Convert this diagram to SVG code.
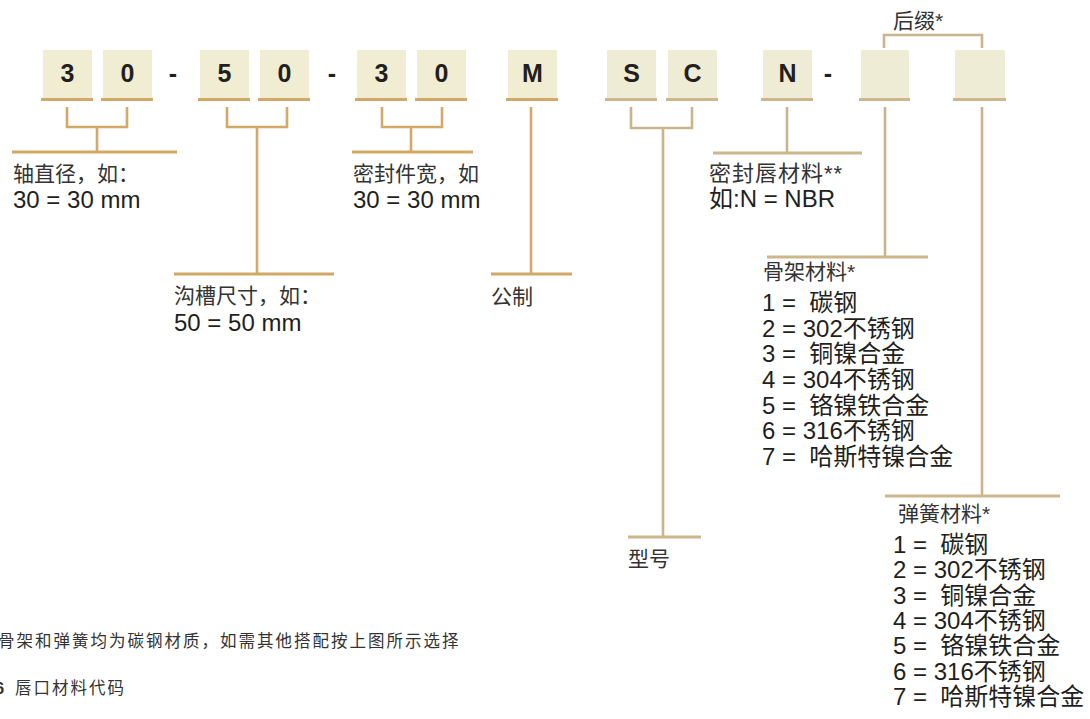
<svg xmlns="http://www.w3.org/2000/svg" width="1090" height="719" viewBox="0 0 1090 719">
<style>
.box{fill:#F0EDD2}
.boxr{fill:#EFECD5}
.ul{stroke:#D2A866;stroke-width:3;fill:none}
.ulr{stroke:#CDB58C;stroke-width:3;fill:none}
.ln{stroke:#D4A968;stroke-width:2.6;fill:none}
.lnr{stroke:#CBB48C;stroke-width:2.6;fill:none}
.code{font-family:"Liberation Sans",Arial,sans-serif;font-weight:bold;font-size:25px;fill:#231F20;text-anchor:middle}
.lab{font-family:"Liberation Sans","Noto Sans CJK SC",sans-serif;font-size:21px;fill:#333}
.num{font-family:"Liberation Sans","Noto Sans CJK SC",sans-serif;font-size:24px;fill:#231F20}
.li{font-family:"Liberation Sans","Noto Sans CJK SC",sans-serif;font-size:24px;fill:#231F20;white-space:pre}
.ft{font-family:"Liberation Sans","Noto Sans CJK SC",sans-serif;font-size:16.5px;fill:#333;letter-spacing:2px}
</style>
<rect width="1090" height="719" fill="#fff"/>
<g id="connectors">
<path class="ln" d="M67,107V127H127V107M97,127V152"/>
<path class="ul" d="M12,152H177"/>
<path class="ln" d="M227,107V127H287V107M257,127V274"/>
<path class="ul" d="M174,274H334"/>
<path class="ln" d="M382,107V127H442V107M411,127V152"/>
<path class="ul" d="M352,152H473"/>
<path class="ln" d="M531,107V274"/>
<path class="ul" d="M491,274H572"/>
<path class="lnr" d="M631,107V128H692V107M663,128V537"/>
<path class="ulr" d="M628,537H701"/>
<path class="lnr" d="M787,107V153"/>
<path class="ulr" d="M713,153H862"/>
<path class="lnr" d="M885,107V257"/>
<path class="ulr" d="M767,257H928"/>
<path class="lnr" d="M982,107V496"/>
<path class="ulr" d="M885,496H1060"/>
<path class="lnr" d="M884,48V35H982V48"/>
</g>
<g id="b1"><rect class="box" x="43" y="50" width="49" height="48"/><path class="ul" d="M41,99.5H93"/><text class="code" x="67.5" y="82">3</text></g>
<g id="b2"><rect class="box" x="103" y="50" width="49" height="48"/><path class="ul" d="M101,99.5H153"/><text class="code" x="127.5" y="82">0</text></g>
<g id="d1"><text class="code" x="173" y="82">-</text></g>
<g id="b3"><rect class="box" x="200" y="50" width="49" height="48"/><path class="ul" d="M198,99.5H250"/><text class="code" x="224.5" y="82">5</text></g>
<g id="b4"><rect class="box" x="260" y="50" width="49" height="48"/><path class="ul" d="M258,99.5H310"/><text class="code" x="284.5" y="82">0</text></g>
<g id="d2"><text class="code" x="332" y="82">-</text></g>
<g id="b5"><rect class="box" x="357" y="50" width="49" height="48"/><path class="ul" d="M355,99.5H407"/><text class="code" x="381.5" y="82">3</text></g>
<g id="b6"><rect class="box" x="417" y="50" width="49" height="48"/><path class="ul" d="M415,99.5H467"/><text class="code" x="441.5" y="82">0</text></g>
<g id="b7"><rect class="box" x="508" y="50" width="49" height="48"/><path class="ul" d="M506,99.5H558"/><text class="code" x="532.5" y="82">M</text></g>
<g id="b8"><rect class="boxr" x="607" y="50" width="49" height="48"/><path class="ulr" d="M605,99.5H657"/><text class="code" x="631.5" y="82">S</text></g>
<g id="b9"><rect class="boxr" x="668" y="50" width="49" height="48"/><path class="ulr" d="M666,99.5H718"/><text class="code" x="692.5" y="82">C</text></g>
<g id="b10"><rect class="boxr" x="763" y="50" width="49" height="48"/><path class="ulr" d="M761,99.5H813"/><text class="code" x="787.5" y="82">N</text></g>
<g id="d3"><text class="code" x="828" y="82">-</text></g>
<g id="b11"><rect class="boxr" x="861" y="50" width="48" height="48"/><path class="ulr" d="M859,99.5H910"/></g>
<g id="b12"><rect class="boxr" x="955" y="50" width="50" height="48"/><path class="ulr" d="M953,99.5H1006"/></g>
<g id="suffix"><text class="lab" x="893" y="28">后缀*</text></g>
<g id="shaft"><text class="lab" x="13" y="181">轴直径，如：</text><text class="num" x="13" y="208">30 = 30 mm</text></g>
<g id="groove"><text class="lab" x="174" y="303">沟槽尺寸，如：</text><text class="num" x="174" y="331">50 = 50 mm</text></g>
<g id="width"><text class="lab" x="353" y="181">密封件宽，如</text><text class="num" x="353" y="208">30 = 30 mm</text></g>
<g id="metric"><text class="lab" x="491" y="304">公制</text></g>
<g id="model"><text class="lab" x="628" y="566">型号</text></g>
<g id="lip"><text class="lab" x="709" y="181" style="font-size:22px;letter-spacing:1px">密封唇材料**</text><text class="num" x="709" y="207">如:N = NBR</text></g>
<g id="frame">
<text class="lab" x="763" y="279">骨架材料*</text>
<text class="li" x="762" y="311">1 =  碳钢</text>
<text class="li" x="762" y="337">2 = 302不锈钢</text>
<text class="li" x="762" y="362">3 =  铜镍合金</text>
<text class="li" x="762" y="388">4 = 304不锈钢</text>
<text class="li" x="762" y="414">5 =  铬镍铁合金</text>
<text class="li" x="762" y="439">6 = 316不锈钢</text>
<text class="li" x="762" y="465">7 =  哈斯特镍合金</text>
</g>
<g id="spring">
<text class="lab" x="898" y="521">弹簧材料*</text>
<text class="li" x="893" y="553">1 =  碳钢</text>
<text class="li" x="893" y="578">2 = 302不锈钢</text>
<text class="li" x="893" y="604">3 =  铜镍合金</text>
<text class="li" x="893" y="629">4 = 304不锈钢</text>
<text class="li" x="893" y="654">5 =  铬镍铁合金</text>
<text class="li" x="893" y="680">6 = 316不锈钢</text>
<text class="li" x="893" y="705">7 =  哈斯特镍合金</text>
</g>
<g id="notes">
<text class="ft" x="-2" y="647">骨架和弹簧均为碳钢材质，如需其他搭配按上图所示选择</text>
<text class="ft" x="-5" y="694" style="font-weight:bold;letter-spacing:0">6</text>
<text class="ft" x="15" y="694">唇口材料代码</text>
</g>
</svg>
